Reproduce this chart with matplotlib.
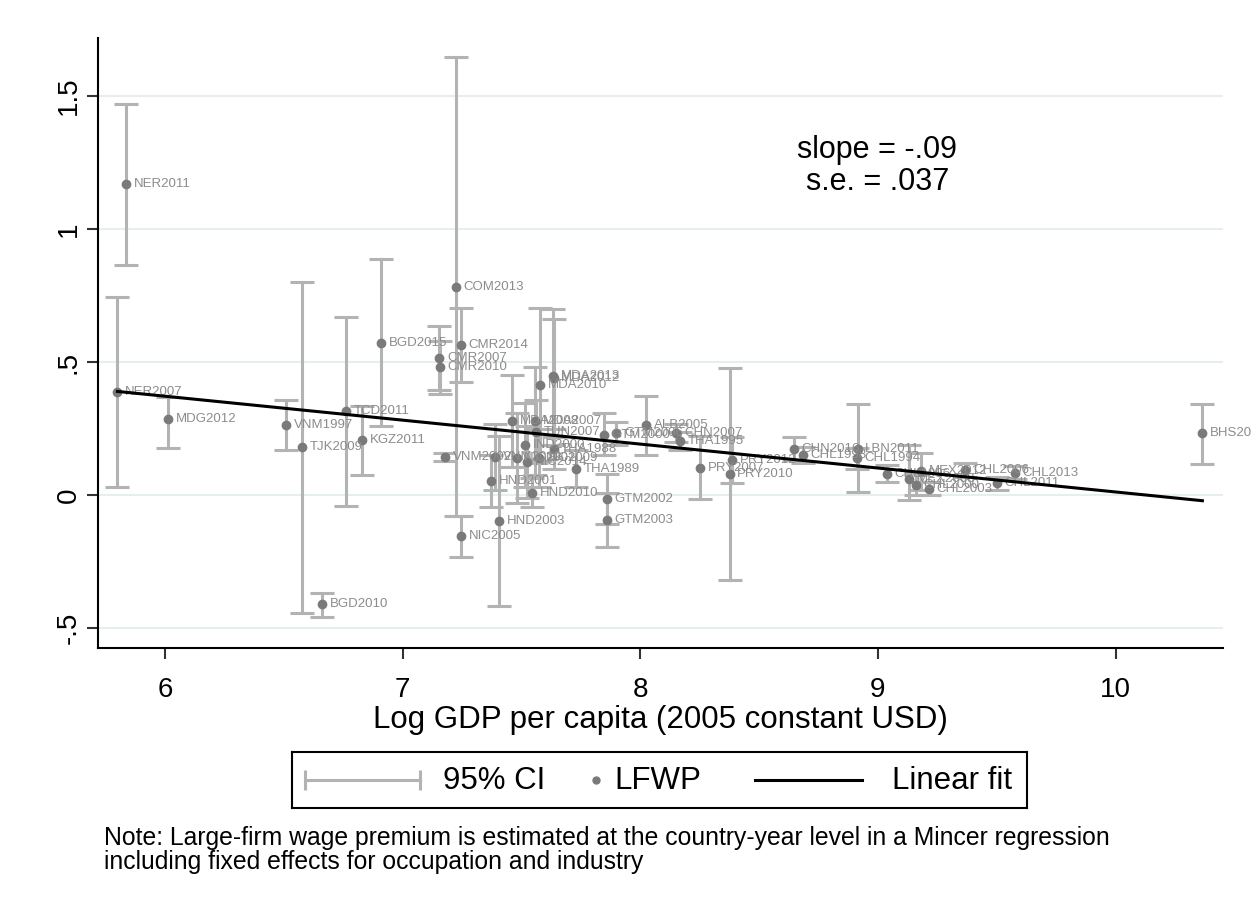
import numpy as np
import matplotlib
matplotlib.use('Agg')
import matplotlib.pyplot as plt

plt.rcParams['font.family'] = ['Liberation Sans', 'DejaVu Sans']

# country-year labels, log GDP per capita, LFWP estimate and 95% CI
labels = ['NER2011', 'NER2007', 'MDG2012', 'VNM1997', 'TJK2009', 'BGD2010',
          'TCD2011', 'KGZ2011', 'BGD2015', 'CMR2007', 'CMR2010', 'VNM2002',
          'COM2013', 'CMR2014', 'NIC2005', 'VNM2012', 'HND2001', 'HND2003',
          'HND2010', 'THA1989', 'GTM2002', 'GTM2003', 'MDA2008', 'MDA2007',
          'TUN2007', 'IND2000', 'NIC2001', 'THA1988', 'NIC2009', 'NIC2014',
          'MDA2010', 'MDA2013', 'MDA2012', 'GTM2000', 'GTM2006', 'ALB2005',
          'CHN2007', 'THA1995', 'PRY2007', 'PRY2012', 'PRY2010', 'CHN2016',
          'CHL1998', 'LBN2011', 'CHL1994', 'CHL1996', 'MEX2008', 'CHL2000',
          'MEX2012', 'CHL2006', 'CHL2013', 'CHL2011', 'CHL2003', 'BHS2014']
gdp = [5.836, 5.800, 6.014, 6.509, 6.578, 6.662,
       6.761, 6.828, 6.911, 7.154, 7.158, 7.180,
       7.225, 7.245, 7.246, 7.389, 7.373, 7.406,
       7.544, 7.731, 7.860, 7.860, 7.460, 7.558,
       7.562, 7.516, 7.480, 7.635, 7.572, 7.525,
       7.579, 7.632, 7.635, 7.846, 7.899, 8.025,
       8.152, 8.166, 8.253, 8.386, 8.376, 8.646,
       8.685, 8.914, 8.910, 9.036, 9.130, 9.160,
       9.180, 9.368, 9.575, 9.500, 9.214, 10.365]
lfwp = [1.170, 0.388, 0.287, 0.263, 0.180, -0.411,
        0.315, 0.207, 0.572, 0.515, 0.480, 0.144,
        0.783, 0.563, -0.154, 0.144, 0.053, -0.098,
        0.010, 0.100, -0.013, -0.094, 0.278, 0.278,
        0.238, 0.188, 0.140, 0.175, 0.139, 0.125,
        0.415, 0.447, 0.440, 0.228, 0.232, 0.263,
        0.234, 0.203, 0.103, 0.132, 0.078, 0.175,
        0.150, 0.175, 0.138, 0.081, 0.060, 0.040,
        0.090, 0.094, 0.084, 0.044, 0.025, 0.232]
ci_lo = [0.867, 0.030, 0.177, 0.168, -0.443, -0.458,
         -0.039, 0.077, 0.260, 0.397, 0.380, 0.128,
         -0.080, 0.426, -0.232, 0.020, -0.045, -0.418,
         -0.044, 0.030, -0.107, -0.195, 0.105, 0.074,
         0.120, 0.030, -0.030, 0.100, 0.030, -0.010,
         0.128, 0.190, 0.220, 0.150, 0.188, 0.150,
         0.200, 0.170, -0.016, 0.046, -0.320, 0.133,
         0.120, 0.012, 0.100, 0.050, -0.019, 0.000,
         0.020, 0.068, 0.060, 0.020, 0.000, 0.119]
ci_hi = [1.472, 0.745, 0.370, 0.358, 0.800, -0.366,
         0.668, 0.336, 0.889, 0.637, 0.580, 0.160,
         1.647, 0.702, -0.080, 0.268, 0.150, 0.222,
         0.064, 0.170, 0.081, 0.007, 0.451, 0.482,
         0.356, 0.346, 0.310, 0.250, 0.250, 0.260,
         0.702, 0.700, 0.662, 0.308, 0.276, 0.373,
         0.268, 0.236, 0.222, 0.218, 0.477, 0.217,
         0.180, 0.342, 0.176, 0.112, 0.188, 0.080,
         0.160, 0.120, 0.108, 0.068, 0.050, 0.342]

fit_slope = -0.09
fit_intercept = 0.912
slope_se = 0.037

yticks = [-0.5, 0, 0.5, 1, 1.5]
ytick_labels = ['-.5', '0', '.5', '1', '1.5']
xticks = [6, 7, 8, 9, 10]
legend_labels = ['95% CI', 'LFWP', 'Linear fit']

gdp = np.array(gdp)
lfwp = np.array(lfwp)
ci_lo = np.array(ci_lo)
ci_hi = np.array(ci_hi)

fig = plt.figure(figsize=(12.51, 9.09), dpi=100)
ax = fig.add_axes([0.0783, 0.287, 0.899, 0.671])

ci_color = '#b3b3b3'
dot_color = '#7a7a7a'

ax.errorbar(gdp, lfwp, yerr=[lfwp - ci_lo, ci_hi - lfwp], fmt='none',
            ecolor=ci_color, elinewidth=2.2, capsize=8.5, capthick=2.2, zorder=2)
ax.plot(gdp, lfwp, 'o', color=dot_color, markersize=6, zorder=3)
for lab, xv, yv in zip(labels, gdp, lfwp):
    ax.annotate(lab, (xv, yv), xytext=(5.5, 0), textcoords='offset points',
                va='center', ha='left', fontsize=9.5, color='#8c8c8c', zorder=4)

xs = np.array([gdp.min(), gdp.max()])
ax.plot(xs, fit_intercept + fit_slope * xs, color='black', lw=2.2, zorder=5)

ax.text(0.693, 0.816, 'slope = %s' % ('%.2f' % fit_slope).replace('0.', '.'),
        transform=ax.transAxes, ha='center', va='center', fontsize=22)
ax.text(0.693, 0.764, 's.e. = %s' % ('%.3f' % slope_se).replace('0.', '.'),
        transform=ax.transAxes, ha='center', va='center', fontsize=22)

ax.set_xlim(5.718, 10.45)
ax.set_ylim(-0.575, 1.718)
ax.set_yticks(yticks)
ax.set_yticklabels(ytick_labels, rotation=90, va='center')
ax.set_xticks(xticks)
ax.tick_params(labelsize=20, length=8, width=1.5, color='#333333')
ax.tick_params(axis='x', pad=13)
ax.grid(axis='y', color='#e6eef0', lw=1.5, zorder=0)
ax.set_axisbelow(True)
for side in ['top', 'right']:
    ax.spines[side].set_visible(False)
for side in ['left', 'bottom']:
    ax.spines[side].set_linewidth(1.5)
ax.set_xlabel('Log GDP per capita (2005 constant USD)', fontsize=22.5, labelpad=1)

# legend box, drawn in its own pixel-scaled axes
lax = fig.add_axes([292 / 1251, 1 - 808 / 909, 735 / 1251, 56 / 909])
lax.set_xlim(0, 735)
lax.set_ylim(0, 56)
lax.set_xticks([])
lax.set_yticks([])
for s in lax.spines.values():
    s.set_linewidth(1.5)
lax.plot([13, 128], [28, 28], color=ci_color, lw=2.2, marker='|',
         markersize=14, markeredgewidth=2.2)
lax.text(151, 27, legend_labels[0], fontsize=22.5, va='center')
lax.plot([304], [28], 'o', color=dot_color, markersize=5)
lax.text(322, 27, legend_labels[1], fontsize=22.5, va='center')
lax.plot([463, 570], [28, 28], color='black', lw=2.2)
lax.text(600, 27, legend_labels[2], fontsize=22.5, va='center')

fig.text(0.083, 0.065, 'Note: Large-firm wage premium is estimated at the country-year level in a Mincer regression\n'
         'including fixed effects for occupation and industry',
         fontsize=17.8, va='center', ha='left', linespacing=0.97)

fig.savefig('out.png', dpi=100)
